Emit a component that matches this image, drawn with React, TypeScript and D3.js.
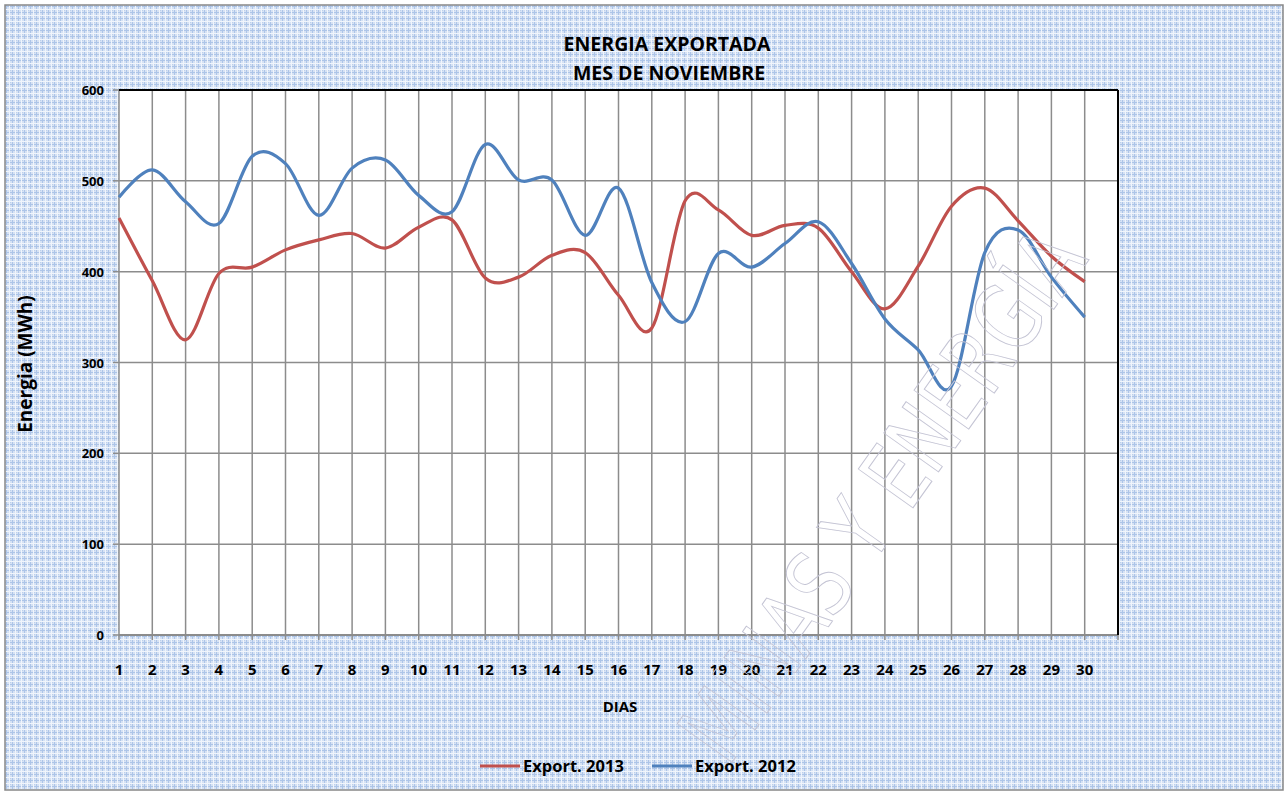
import React from "react";
import * as d3 from "d3";

const days = Array.from({ length: 30 }, (_, i) => i + 1);
const yTicks = [0, 100, 200, 300, 400, 500, 600];
const export2013 = [459, 390, 325, 398, 405, 424, 435, 442, 426, 449, 457, 393, 394, 418, 421, 374, 338, 478, 468, 440, 451, 448, 400, 359, 406, 472, 492, 456, 417, 389];
const export2012 = [482, 512, 477, 453, 527, 519, 462, 514, 523, 484, 466, 540, 501, 501, 440, 492, 388, 345, 420, 405, 431, 455, 409, 348, 314, 274, 421, 446, 394, 350];
const seriesNames = ["Export. 2013", "Export. 2012"];
const seriesColors = ["#c0504d", "#4f81bd"];

const W = 1286;
const H = 793;
const left = 119, right = 1118, top = 90, bottom = 635;

export default function App() {
  const x = d3.scaleLinear().domain([1, 31]).range([left, right]);
  const y = d3.scaleLinear().domain([0, 600]).range([bottom, top]);
  const line = d3
    .line<number>()
    .x((_, i) => x(days[i]))
    .y((d) => y(d))
    .curve(d3.curveCardinal.tension(0));
  const font = "'Open Sans', Lato, sans-serif";
  const gridX = [...days.slice(1), 31];

  return (
    <svg width={W} height={H} style={{ position: "absolute", left: 0, top: 0 }}>
      <defs>
        <pattern id="bgp" width="6" height="6" patternUnits="userSpaceOnUse">
          <rect width="6" height="6" fill="#d6e2f4" />
          <rect x="0" y="0" width="6" height="1" fill="#adc5e8" />
          <rect x="0" y="0" width="1" height="6" fill="#adc5e8" />
          <rect x="3" y="0" width="1" height="6" fill="#f0f5fc" />
          <rect x="0" y="3" width="6" height="1" fill="#f0f5fc" />
          <rect x="4" y="4" width="1" height="1" fill="#bcd0ec" />
        </pattern>
      </defs>
      <rect x={5} y={5} width={1278} height={785} fill="url(#bgp)" stroke="#888" strokeWidth={1.5} />
      <rect x={left} y={top} width={right - left} height={bottom - top} fill="#fff" />
      {yTicks.slice(1).map((t) => (
        <line key={"h" + t} x1={left} x2={right} y1={y(t)} y2={y(t)} stroke="#8c8c8c" strokeWidth={1.5} />
      ))}
      {gridX.map((d) => (
        <line key={"v" + d} x1={x(d)} x2={x(d)} y1={top} y2={bottom + 5} stroke="#8c8c8c" strokeWidth={1.5} />
      ))}
      <line x1={left} x2={left} y1={top} y2={bottom + 5} stroke="#8c8c8c" strokeWidth={1.5} />
      <line x1={left} x2={right} y1={bottom} y2={bottom} stroke="#8c8c8c" strokeWidth={2} />
      {yTicks.map((t) => (
        <line key={"yt" + t} x1={left - 6} x2={left} y1={y(t)} y2={y(t)} stroke="#8c8c8c" strokeWidth={1.5} />
      ))}
      <line x1={left} x2={right} y1={top} y2={top} stroke="#000" strokeWidth={2} />
      <line x1={right} x2={right} y1={top} y2={bottom} stroke="#000" strokeWidth={2} />
      {[export2013, export2012].map((s, i) => (
        <path key={"s" + i} d={line(s) || ""} fill="none" stroke={seriesColors[i]} strokeWidth={3.2} strokeLinejoin="round" />
      ))}
      {yTicks.map((t) => (
        <text key={"yl" + t} x={104} y={y(t) + 5} textAnchor="end" fontFamily={font} fontWeight="bold" fontSize={13} fill="#000">
          {t}
        </text>
      ))}
      {days.map((d) => (
        <text key={"xl" + d} x={x(d)} y={675} textAnchor="middle" fontFamily={font} fontWeight="bold" fontSize={15} fill="#000">
          {d}
        </text>
      ))}
      <text x={620} y={712} textAnchor="middle" fontFamily={font} fontWeight="bold" fontSize={15} fill="#000">DIAS</text>
      <text transform="translate(32,364) rotate(-90)" textAnchor="middle" fontFamily={font} fontWeight="bold" fontSize={19} fill="#000">
        Energia (MWh)
      </text>
      <text x={667} y={51} textAnchor="middle" fontFamily={font} fontWeight="bold" fontSize={19.5} fill="#000">ENERGIA EXPORTADA</text>
      <text x={669} y={80} textAnchor="middle" fontFamily={font} fontWeight="bold" fontSize={19.5} fill="#000">MES DE NOVIEMBRE</text>
      {seriesNames.map((n, i) => {
        const lx = i === 0 ? 480 : 652;
        return (
          <g key={"lg" + i}>
            <line x1={lx} x2={lx + 40} y1={766} y2={766} stroke={seriesColors[i]} strokeWidth={3} />
            <text x={lx + 43} y={772} fontFamily={font} fontWeight="bold" fontSize={16.5} fill="#000">{n}</text>
          </g>
        );
      })}
      <text
        transform="translate(728,768) rotate(-54.6)"
        fontFamily="'DejaVu Sans', sans-serif"
        fontSize={92}
        fill="none"
        stroke="#c4c4d4"
        strokeWidth={1}
        textLength={624}
        lengthAdjust="spacingAndGlyphs"
      >
        MINAS Y ENERGÍA
      </text>
    </svg>
  );
}
